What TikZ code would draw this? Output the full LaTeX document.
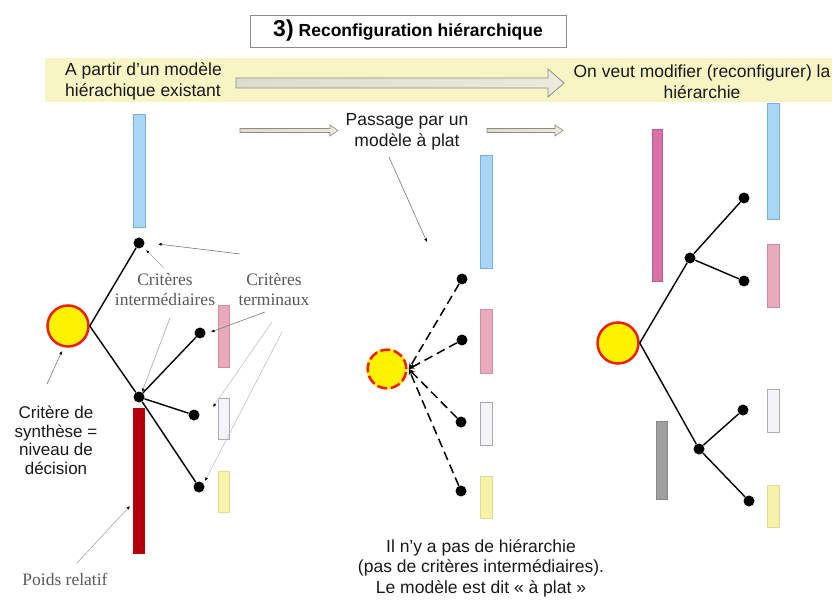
\documentclass[tikz,border=0pt]{standalone}
\usepackage{fontspec}
\setmainfont{Liberation Sans}
\newfontfamily\seriffont{Liberation Serif}
\usetikzlibrary{arrows.meta}
\definecolor{bandyellow}{RGB}{247,245,196}
\definecolor{barblue}{RGB}{170,214,245}
\definecolor{barblueline}{RGB}{120,175,220}
\definecolor{barpink}{RGB}{232,170,188}
\definecolor{barpinkline}{RGB}{210,140,160}
\definecolor{barwhite}{RGB}{244,244,246}
\definecolor{barwhiteline}{RGB}{170,170,175}
\definecolor{baryellow}{RGB}{246,242,168}
\definecolor{baryellowline}{RGB}{220,220,150}
\definecolor{barred}{RGB}{180,0,12}
\definecolor{barmagenta}{RGB}{218,112,168}
\definecolor{bargray}{RGB}{160,160,160}
\definecolor{arrowfillA}{RGB}{222,220,204}
\definecolor{arrowfillB}{RGB}{236,234,220}
\definecolor{arrowline}{RGB}{140,140,130}
\definecolor{critred}{RGB}{240,30,10}
\definecolor{notegray}{RGB}{120,120,120}
\begin{document}
\begin{tikzpicture}[x=1pt,y=-1pt,
  dot/.style={circle, fill=black, inner sep=0pt, minimum size=11pt},
  bar/.style={rectangle, inner sep=0pt, line width=0.8pt},
  crit/.style={circle, fill=yellow, draw=critred, line width=2.5pt, minimum size=41pt, inner sep=0pt},
  link/.style={line width=1.4pt, black},
  dlink/.style={line width=1.5pt, black, dash pattern=on 9pt off 5pt, -{Stealth[length=6pt,width=5pt]}},
  note/.style={draw=notegray, line width=0.6pt, -{Latex[length=3.5pt,width=3pt,black]}},
  lightnote/.style={note, draw=black!25},
  sanslbl/.style={font=\fontsize{17.5pt}{20.5pt}\selectfont, align=center, inner sep=0pt, text=black!90},
  seriflbl/.style={font=\seriffont\fontsize{17.5pt}{19.5pt}\selectfont, text=black!65, align=center, inner sep=0pt},
  hollowarrow/.style={draw=arrowline, line width=0.8pt, left color=arrowfillA, right color=arrowfillB}
]
\useasboundingbox (0,0) rectangle (832,601);
% yellow band
\fill[bandyellow] (45,58) rectangle (832,102);
% title
\node[draw=black!45, line width=0.8pt, fill=white, minimum width=316pt, minimum height=32pt, inner sep=0pt] (title) at (408,31)
  {\bfseries{\fontsize{23pt}{23pt}\selectfont 3)}\hspace{5pt}{\fontsize{17.5pt}{20pt}\selectfont Reconfiguration hiérarchique}};
% big hollow arrow
\draw[hollowarrow] (236,78) -- (548,78) -- (548,69) -- (564,83) -- (548,97) -- (548,88) -- (236,88) -- cycle;
% small hollow arrows
\draw[hollowarrow, line width=0.6pt] (240,128.5) -- (330,128.5) -- (330,125) -- (338,130.5) -- (330,136) -- (330,132.5) -- (240,132.5) -- cycle;
\draw[hollowarrow, line width=0.6pt] (487,128.5) -- (555,128.5) -- (555,125) -- (563,130.5) -- (555,136) -- (555,132.5) -- (487,132.5) -- cycle;
% header texts
\node[sanslbl, align=left, anchor=west] (from) at (65,81.5) {A partir d'un modèle\\hiérachique existant};
\node[sanslbl] (to) at (702,81.5) {On veut modifier (reconfigurer) la\\hiérarchie};
\node[sanslbl] (pass) at (407,132) {Passage par un\\modèle à plat};

% ---------- left panel ----------
\node[bar, fill=barblue, draw=barblueline, minimum width=12pt, minimum height=113pt] (lblue) at (139,170.5) {};
\node[bar, fill=barred, draw=barred, minimum width=11pt, minimum height=145pt] (lred) at (138.5,480.5) {};
\node[bar, fill=barpink, draw=barpinkline, minimum width=11pt, minimum height=62pt] (lpink) at (223.5,336) {};
\node[bar, fill=barwhite, draw=barwhiteline, minimum width=11pt, minimum height=41pt] (lwhite) at (223.5,418.5) {};
\node[bar, fill=baryellow, draw=baryellowline, minimum width=11pt, minimum height=41pt] (lyellow) at (223.5,491.5) {};

\node[crit] (lc) at (68,326) {};
\node[dot] (la) at (139,243) {};
\node[dot] (lb) at (139,397) {};
\node[dot] (lc1) at (200,333) {};
\node[dot] (lc2) at (194,415) {};
\node[dot] (lc3) at (199,487) {};
\draw[link] (lc.east) -- (la);
\draw[link] (lc.east) -- (lb);
\draw[link] (lb) -- (lc1);
\draw[link] (lb) -- (lc2);
\draw[link] (lb) -- (lc3);

\node[seriflbl] (inter) at (165,289.5) {Critères\\intermédiaires};
\node[seriflbl] (term) at (274,289.5) {Critères\\terminaux};
\node[sanslbl, font=\fontsize{17pt}{18.5pt}\selectfont] (synth) at (56,440.5) {Critère de\\synthèse =\\niveau de\\décision};
\node[seriflbl] (poids) at (65,579) {Poids relatif};

\coordinate (n1s) at (240,254);
\coordinate (n1e) at (158,244);
\coordinate (n2s) at (164,268);
\coordinate (n2e) at (146,250);
\coordinate (n3s) at (170,318);
\coordinate (n3e) at (142,392);
\coordinate (n4s) at (265,312);
\coordinate (n4e) at (211,332);
\coordinate (n5s) at (272,322);
\coordinate (n5e) at (213,407);
\coordinate (n6s) at (282,332);
\coordinate (n6e) at (205,481);
\coordinate (n7s) at (47,384);
\coordinate (n7e) at (62,351);
\coordinate (n8s) at (77,563);
\coordinate (n8e) at (130,506);
\draw[note] (n1s) -- (n1e);
\draw[note, draw=black!35] (n2s) -- (n2e);
\draw[note, draw=black!35] (n3s) -- (n3e);
\draw[note] (n4s) -- (n4e);
\draw[lightnote] (n5s) -- (n5e);
\draw[lightnote] (n6s) -- (n6e);
\draw[note] (n7s) -- (n7e);
\draw[note, draw=black!35] (n8s) -- (n8e);

% ---------- middle panel ----------
\node[bar, fill=barblue, draw=barblueline, minimum width=12pt, minimum height=113pt] (mblue) at (486,211.5) {};
\node[bar, fill=barpink, draw=barpinkline, minimum width=12pt, minimum height=64pt] (mpink) at (486,341) {};
\node[bar, fill=barwhite, draw=barwhiteline, minimum width=12pt, minimum height=43pt] (mwhite) at (486,423.5) {};
\node[bar, fill=baryellow, draw=baryellowline, minimum width=12pt, minimum height=42pt] (myellow) at (486,497) {};

\node[crit, draw=none] (mc) at (387,369) {};
\draw[critred, line width=2.5pt, dash pattern=on 10pt off 3.5pt] (mc.center) circle[radius=19.3pt];
\node[dot] (m1) at (462,279) {};
\node[dot] (m2) at (462,340) {};
\node[dot] (m3) at (461,422) {};
\node[dot] (m4) at (461,491) {};
\draw[dlink] (m1) -- (mc.east);
\draw[dlink] (m2) -- (mc.east);
\draw[dlink] (m3) -- (mc.east);
\draw[dlink] (m4) -- (mc.east);

\coordinate (n9s) at (389,157);
\coordinate (n9e) at (427,242);
\draw[note] (n9s) -- (n9e);

\node[sanslbl] (flat) at (481,568) {Il n'y a pas de hiérarchie\\(pas de critères intermédiaires).\\Le modèle est dit « à plat »};

% ---------- right panel ----------
\node[bar, fill=barmagenta, draw=barmagenta!85!black, minimum width=10pt, minimum height=152pt] (rmag) at (657,205) {};
\node[bar, fill=bargray, draw=bargray!85!black, minimum width=11pt, minimum height=78pt] (rgray) at (661.5,460) {};
\node[bar, fill=barblue, draw=barblueline, minimum width=12pt, minimum height=116pt] (rblue) at (773,161) {};
\node[bar, fill=barpink, draw=barpinkline, minimum width=12pt, minimum height=63pt] (rpink) at (773,275.5) {};
\node[bar, fill=barwhite, draw=barwhiteline, minimum width=12pt, minimum height=43pt] (rwhite) at (773,410.5) {};
\node[bar, fill=baryellow, draw=baryellowline, minimum width=12pt, minimum height=42pt] (ryellow) at (773,506) {};

\node[crit] (rc) at (618,343) {};
\node[dot] (rd) at (690,258) {};
\node[dot] (rd1) at (744,198) {};
\node[dot] (rd2) at (744,281) {};
\node[dot] (re) at (699,449) {};
\node[dot] (re1) at (743,410) {};
\node[dot] (re2) at (749,501) {};
\draw[link] (rc.east) -- (rd);
\draw[link] (rc.east) -- (re);
\draw[link] (rd) -- (rd1);
\draw[link] (rd) -- (rd2);
\draw[link] (re) -- (re1);
\draw[link] (re) -- (re2);
\end{tikzpicture}
\end{document}
